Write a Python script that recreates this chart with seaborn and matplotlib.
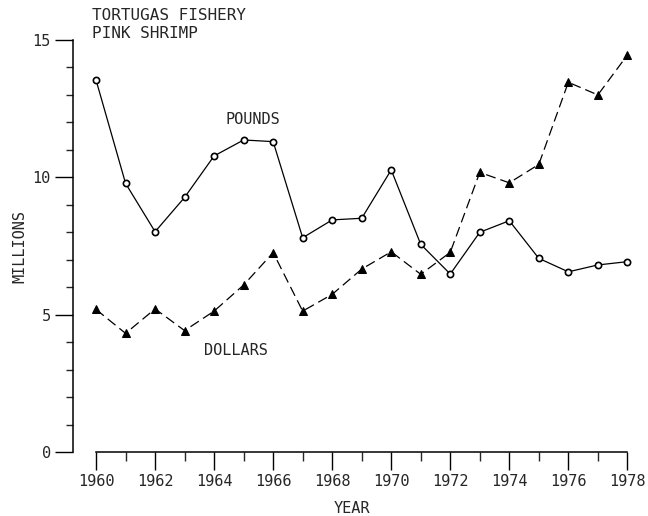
import matplotlib
matplotlib.use("Agg")
import matplotlib.pyplot as plt
from matplotlib.ticker import MultipleLocator
import pandas as pd
import seaborn as sns

years = list(range(1960, 1979))
pounds = [13.54, 9.78, 8.02, 9.27, 10.78, 11.36, 11.30, 7.80, 8.45, 8.51,
          10.27, 7.56, 6.48, 8.00, 8.42, 7.05, 6.56, 6.81, 6.93]
dollars = [5.19, 4.32, 5.21, 4.42, 5.13, 6.08, 7.26, 5.13, 5.74, 6.66,
           7.29, 6.47, 7.27, 10.18, 9.80, 10.47, 13.46, 13.00, 14.45]
year_ticks = list(range(1960, 1979, 2))
million_ticks = [0, 5, 10, 15]

df = pd.DataFrame({"YEAR": years, "POUNDS": pounds, "DOLLARS": dollars})

sns.set_style("ticks")
plt.rcParams["font.family"] = ["DejaVu Sans Mono"]
plt.rcParams["font.size"] = 11

fig = plt.figure(figsize=(6.48, 5.16), dpi=100)
ax = fig.add_axes([0.1127, 0.124, 0.86, 0.7985])

sns.lineplot(data=df, x="YEAR", y="POUNDS", ax=ax, color="black", linewidth=0.9,
             marker="o", markersize=4.5, markerfacecolor="white",
             markeredgecolor="black", markeredgewidth=1.2, clip_on=False)
sns.lineplot(data=df, x="YEAR", y="DOLLARS", ax=ax, color="black", linewidth=0.9,
             marker="^", markersize=5.5, markerfacecolor="black",
             markeredgecolor="black", dashes=(8, 4), clip_on=False)

ax.set_xlim(1959.22, 1978.1)
ax.set_ylim(0, 15)
ax.set_xticks(year_ticks)
ax.xaxis.set_minor_locator(MultipleLocator(1))
ax.set_yticks(million_ticks)
ax.yaxis.set_minor_locator(MultipleLocator(1))
ax.tick_params(axis="both", which="major", length=13, width=1.0, labelsize=11,
               color="black", pad=3)
ax.tick_params(axis="x", which="minor", length=6.5, width=1.0)
ax.tick_params(axis="y", which="minor", length=5, width=1.0)

sns.despine(ax=ax)
ax.spines["bottom"].set_bounds(1960, 1978)
for side in ("left", "bottom"):
    ax.spines[side].set_linewidth(1.1)
    ax.spines[side].set_color("black")

ax.set_xlabel("YEAR", fontsize=11)
ax.set_ylabel("MILLIONS", fontsize=11)
ax.xaxis.set_label_coords(0.5, -0.136)
ax.yaxis.set_label_coords(-0.095, 0.5)
ax.xaxis.label.set_va("center")
ax.yaxis.label.set_va("center")

ax.text(1959.86, 16.15, "TORTUGAS FISHERY\nPINK SHRIMP", fontsize=11.5,
        va="top", ha="left", linespacing=1.2, clip_on=False)
ax.text(1964.37, 12.12, "POUNDS", fontsize=11, va="center", ha="left")
ax.text(1963.66, 3.71, "DOLLARS", fontsize=11, va="center", ha="left")

fig.savefig("out.png", dpi=100)
